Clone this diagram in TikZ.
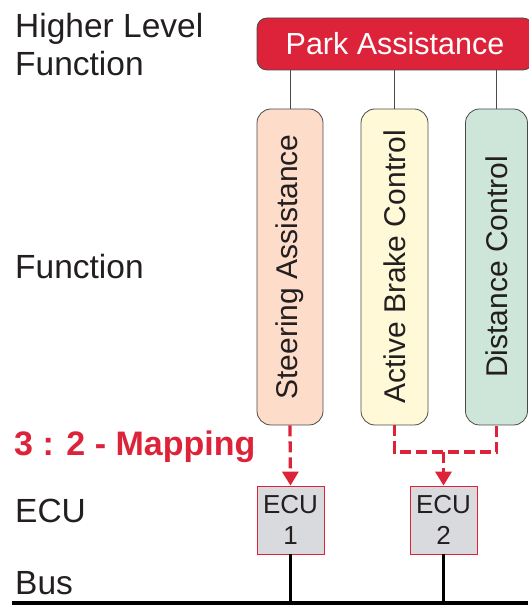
\documentclass[tikz,border=0pt]{standalone}
\usepackage{fontspec}
\setmainfont{Liberation Sans}
\usetikzlibrary{arrows.meta}

\begin{document}
\begin{tikzpicture}[x=1pt, y=1pt,
    levelText/.style={anchor=base west, inner sep=0pt, text=textColour, font=\fontsize{33.5}{38}\selectfont},
    parkBox/.style={draw=borderColour, fill=parkRed, line width=0.8pt, rounded corners=10pt, minimum width=276pt, minimum height=52pt, text=white, font=\fontsize{30.5}{36}\selectfont},
    funcBox/.style={draw=borderColour, line width=0.8pt, rounded corners=14pt, minimum height=316pt, inner sep=0pt},
    funcText/.style={rotate=90, inner sep=0pt, text=textColour, font=\fontsize{30}{36}\selectfont},
    ecuBox/.style={draw=parkRed, fill=ecuGrey, line width=0.8pt, minimum width=67pt, minimum height=68pt, inner sep=0pt, align=center, text=textColour, font=\fontsize{26}{31}\selectfont},
    mapLine/.style={draw=parkRed, line width=3.3pt, dash pattern=on 11pt off 5pt},
    mapArrow/.style={mapLine, -{Triangle[width=16pt, length=14pt]}},
    busLine/.style={draw=black, line width=3.2pt}]

    % Define colours
    \definecolor{borderColour}{HTML}{4A4A4A}
    \definecolor{textColour}{HTML}{231F20}
    \definecolor{parkRed}{HTML}{DC233A}
    \definecolor{steerColour}{HTML}{FDDCCA}
    \definecolor{brakeColour}{HTML}{FFF9D8}
    \definecolor{distColour}{HTML}{CEE6D9}
    \definecolor{ecuGrey}{HTML}{D9DADD}

    \useasboundingbox (0,0) rectangle (528,605);

    % Level labels on the left
    \node[levelText, align=left] (hlf) at (15,529) {Higher Level\\Function};
    \node[levelText] (fnLabel) at (15,326) {Function};
    \node[levelText, text=parkRed, font=\fontsize{34}{38}\selectfont\bfseries] (mapLabel) at (14,149) {3 : 2 - Mapping};
    \node[levelText] (ecuLabel) at (15,82) {ECU};
    \node[levelText] (busLabel) at (15,10) {Bus};

    % Higher level function
    \node[parkBox] (park) at (395,561) {Park Assistance};

    % Functions
    \node[funcBox, fill=steerColour, minimum width=66pt,
        label={[funcText]center:Steering Assistance}] (steer) at (290,338) {};
    \node[funcBox, fill=brakeColour, minimum width=67pt,
        label={[funcText]center:Active Brake Control}] (brake) at (394.5,338) {};
    \node[funcBox, fill=distColour, minimum width=62pt,
        label={[funcText]center:Distance Control}] (dist) at (496.5,338) {};

    \foreach \f in {steer, brake, dist}
        \draw[borderColour, line width=0.8pt] (\f.north |- park.south) -- (\f.north);

    % ECUs
    \node[ecuBox] (ecuA) at (290.5,85) {ECU\\1};
    \node[ecuBox] (ecuB) at (443.5,85) {ECU\\2};

    % Mapping of functions to ECUs
    \coordinate (join) at (443.5,153);
    \draw[mapArrow] (steer.south) -- (ecuA.north);
    \draw[mapLine] (brake.south) |- (join) -| (dist.south);
    \draw[mapArrow] (join) -- (ecuB.north);

    % Bus
    \coordinate (busL) at (12,2);
    \coordinate (busR) at (528,2);
    \draw[busLine] (busL) -- (busR);
    \draw[busLine] (ecuA.south) -- (ecuA.south |- busL);
    \draw[busLine] (ecuB.south) -- (ecuB.south |- busL);

\end{tikzpicture}
\end{document}
